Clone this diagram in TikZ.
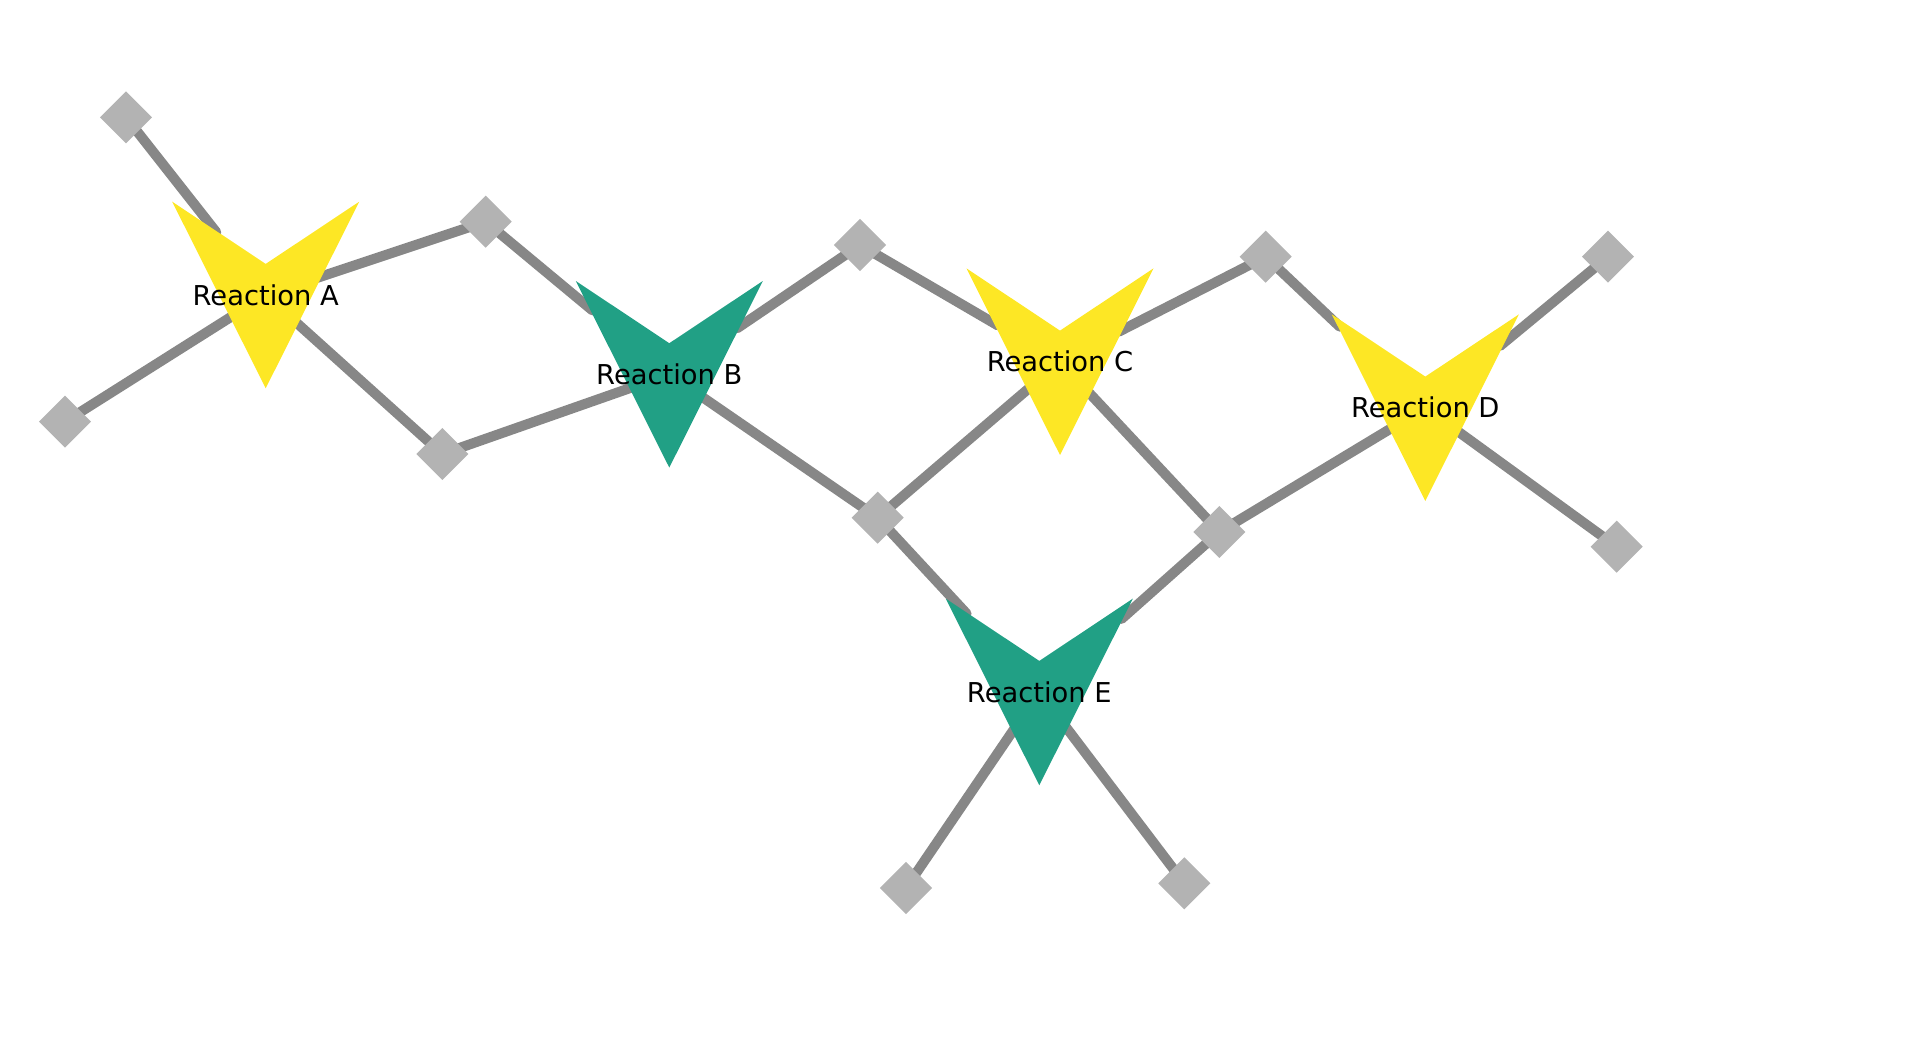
\documentclass[tikz,border=0pt]{standalone}
\usepackage{fontspec}
\setmainfont{DejaVu Sans}
\definecolor{rxyellow}{HTML}{FDE725}
\definecolor{rxteal}{HTML}{21A085}
\definecolor{edgegray}{HTML}{878787}
\definecolor{metgray}{HTML}{B3B3B3}
\pgfdeclarelayer{edges}
\pgfdeclarelayer{fills}
\pgfsetlayers{edges,fills,main}
\tikzset{
  metab/.style={shape=rectangle, rotate=45, fill=metgray, inner sep=0pt, minimum size=27.6pt},
  rlabel/.style={inner sep=0pt, font=\fontsize{20.5pt}{23pt}\selectfont, text=black},
  link/.style={draw=edgegray, line width=7.5pt, line cap=round, shorten >=#1},
}
\newcommand\rxnshape[2]{\fill[#2, shift={(#1.center)}] (-93.5,-93.3) -- (0,-31.1) -- (93.5,-93.3) -- (0,93.3) -- cycle;}
\begin{document}
\begin{tikzpicture}[x=0.75pt, y=-0.75pt]
\useasboundingbox (0,0) rectangle (1928,1039);
% metabolites
\node[metab] (d1) at (126,117.3) {};
\node[metab] (d2) at (65,421.7) {};
\node[metab] (d3) at (485.7,221.7) {};
\node[metab] (d4) at (442.3,454) {};
\node[metab] (d5) at (860,245) {};
\node[metab] (d6) at (877.7,517.7) {};
\node[metab] (d7) at (1265.7,256.7) {};
\node[metab] (d8) at (1219.3,532) {};
\node[metab] (d9) at (1608,256.7) {};
\node[metab] (d10) at (1616.7,546.7) {};
\node[metab] (d11) at (906,888) {};
\node[metab] (d12) at (1184.3,883.3) {};
% reactions
\node[rlabel] (rA) at (265.7,295) {Reaction A};
\node[rlabel] (rB) at (669.3,374.3) {Reaction B};
\node[rlabel] (rC) at (1060,361.7) {Reaction C};
\node[rlabel] (rD) at (1425.3,407.7) {Reaction D};
\node[rlabel] (rE) at (1039.3,692) {Reaction E};
\begin{pgfonlayer}{fills}
\rxnshape{rA}{rxyellow}
\rxnshape{rB}{rxteal}
\rxnshape{rC}{rxyellow}
\rxnshape{rD}{rxyellow}
\rxnshape{rE}{rxteal}
\end{pgfonlayer}
\begin{pgfonlayer}{edges}
\draw[link=60pt] (d1.center) -- (rA.center);
\draw[link=30pt] (d2.center) -- (rA.center);
\draw[link=30pt] (d3.center) -- (rA.center);
\draw[link=30pt] (d4.center) -- (rA.center);
\draw[link=75pt] (d3.center) -- (rB.center);
\draw[link=30pt] (d4.center) -- (rB.center);
\draw[link=61.5pt] (d5.center) -- (rB.center);
\draw[link=30pt] (d6.center) -- (rB.center);
\draw[link=54pt] (d5.center) -- (rC.center);
\draw[link=49.5pt] (d7.center) -- (rC.center);
\draw[link=30pt] (d6.center) -- (rC.center);
\draw[link=30pt] (d8.center) -- (rC.center);
\draw[link=88.5pt] (d7.center) -- (rD.center);
\draw[link=72.75pt] (d9.center) -- (rD.center);
\draw[link=30pt] (d8.center) -- (rD.center);
\draw[link=30pt] (d10.center) -- (rD.center);
\draw[link=80.25pt] (d6.center) -- (rE.center);
\draw[link=82.5pt] (d8.center) -- (rE.center);
\draw[link=30pt] (d11.center) -- (rE.center);
\draw[link=30pt] (d12.center) -- (rE.center);
\end{pgfonlayer}
\end{tikzpicture}
\end{document}
